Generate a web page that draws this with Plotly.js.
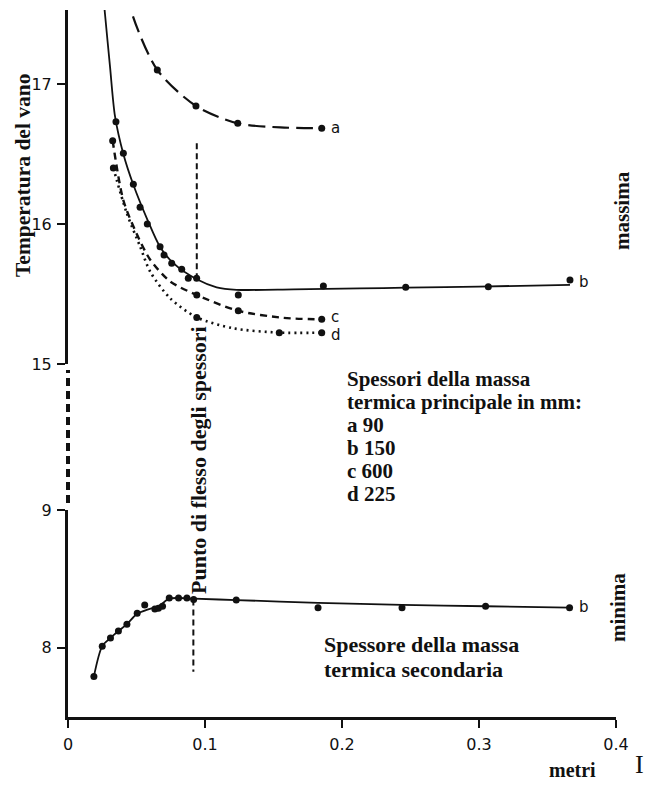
<!DOCTYPE html>
<html>
<head>
<meta charset="utf-8">
<script src="https://cdn.plot.ly/plotly-3.0.1.min.js"></script>
<style>
  html, body { margin: 0; padding: 0; background: #fff; }
  #chart { width: 651px; height: 785px; }
</style>
</head>
<body>
<div id="chart"></div>
<script>
// ---------- data ----------
const xTickVals = [0, 0.1, 0.2, 0.3, 0.4];
const xTickText = ['0', '0.1', '0.2', '0.3', '0.4'];
const yTickUpper = [15, 16, 17];
const yTickLower = [8, 9];

// series a (90 mm) – upper panel
const aCurveX = [0.044, 0.0472, 0.0652, 0.0934, 0.1239, 0.155, 0.1852];
const aCurveY = [17.65, 17.49, 17.10, 16.843, 16.719, 16.69, 16.684];
const aPtsX = [0.0652, 0.0934, 0.1239, 0.1852];
const aPtsY = [17.10, 16.843, 16.719, 16.684];

// series b (150 mm) – upper panel
const bCurveX = [0.0246, 0.027, 0.0307, 0.0343, 0.0404, 0.0477, 0.058, 0.067, 0.0769, 0.094, 0.1085, 0.123, 0.1645, 0.213, 0.2465, 0.30, 0.3664];
const bCurveY = [17.75, 17.5, 17.12, 16.77, 16.50, 16.28, 16.03, 15.84, 15.72, 15.605, 15.548, 15.53, 15.533, 15.54, 15.545, 15.553, 15.565];
const bPtsX = [0.035, 0.0404, 0.0477, 0.0526, 0.0579, 0.0672, 0.0701, 0.0757, 0.083, 0.0878, 0.0939, 0.1243, 0.1864, 0.2465, 0.3068, 0.3664];
const bPtsY = [16.73, 16.505, 16.284, 16.119, 16.0, 15.838, 15.779, 15.719, 15.676, 15.612, 15.612, 15.493, 15.557, 15.548, 15.552, 15.60];

// series c (600 mm)
const cCurveX = [0.0326, 0.0404, 0.0501, 0.06, 0.0745, 0.094, 0.1243, 0.157, 0.1852];
const cCurveY = [16.595, 16.17, 15.93, 15.745, 15.59, 15.493, 15.38, 15.33, 15.319];
const cPtsX = [0.0326, 0.094, 0.1243, 0.1852];
const cPtsY = [16.595, 15.493, 15.38, 15.319];

// series d (225 mm)
const dCurveX = [0.0331, 0.0428, 0.0526, 0.06, 0.0745, 0.094, 0.1207, 0.1542, 0.1852];
const dCurveY = [16.40, 16.08, 15.84, 15.66, 15.47, 15.333, 15.255, 15.224, 15.224];
const dPtsX = [0.0331, 0.094, 0.1542, 0.1852];
const dPtsY = [16.40, 15.333, 15.224, 15.224];

// series b – lower panel (minimum temperature)
const bLowCurveX = [0.0189, 0.025, 0.031, 0.0368, 0.043, 0.0505, 0.058, 0.066, 0.0739, 0.0807, 0.0917, 0.1228, 0.1825, 0.2438, 0.3048, 0.3661];
const bLowCurveY = [7.79, 8.01, 8.07, 8.12, 8.17, 8.245, 8.275, 8.30, 8.355, 8.36, 8.355, 8.345, 8.325, 8.31, 8.30, 8.29];
const bLowPtsX = [0.0189, 0.025, 0.031, 0.0368, 0.043, 0.0505, 0.056, 0.0634, 0.066, 0.069, 0.0739, 0.0807, 0.0868, 0.0917, 0.1228, 0.1825, 0.2438, 0.3048, 0.3661];
const bLowPtsY = [7.79, 8.01, 8.07, 8.12, 8.17, 8.25, 8.31, 8.28, 8.285, 8.30, 8.36, 8.36, 8.36, 8.35, 8.345, 8.29, 8.29, 8.30, 8.29];

// inflection marker ("Punto di flesso")
const flexUpperX = [0.094, 0.094];
const flexUpperY = [16.576, 15.612];
const flexLowerX = [0.0915, 0.0915];
const flexLowerY = [8.35, 7.824];

const legendLines = ['Spessori della massa', 'termica principale in mm:', 'a 90', 'b 150', 'c 600', 'd 225'];
const secondaryLines = ['Spessore della massa', 'termica secondaria'];

// ---------- styling ----------
const INK = '#111';
const SERIF = '"Liberation Serif", "Times New Roman", serif';
const SANS = '"DejaVu Sans", sans-serif';

function curve(x, y, yaxis, dash, width) {
  return { x, y, yaxis, type: 'scatter', mode: 'lines',
    line: { color: INK, width, dash, shape: 'spline', smoothing: 0.8 },
    hoverinfo: 'skip', showlegend: false };
}
function pts(x, y, yaxis) {
  return { x, y, yaxis, type: 'scatter', mode: 'markers',
    marker: { color: INK, size: 7 }, hoverinfo: 'skip', showlegend: false };
}

const traces = [
  curve(aCurveX, aCurveY, 'y2', '17px,7px', 2.2),
  pts(aPtsX, aPtsY, 'y2'),
  curve(bCurveX, bCurveY, 'y2', 'solid', 1.8),
  pts(bPtsX, bPtsY, 'y2'),
  curve(cCurveX, cCurveY, 'y2', '7px,5px', 2.4),
  pts(cPtsX, cPtsY, 'y2'),
  curve(dCurveX, dCurveY, 'y2', '2px,4px', 2.6),
  pts(dPtsX, dPtsY, 'y2'),
  curve(bLowCurveX, bLowCurveY, 'y', 'solid', 1.8),
  pts(bLowPtsX, bLowPtsY, 'y'),
  { x: flexUpperX, y: flexUpperY, yaxis: 'y2', type: 'scatter', mode: 'lines',
    line: { color: INK, width: 2, dash: '6px,4px' }, hoverinfo: 'skip', showlegend: false },
  { x: flexLowerX, y: flexLowerY, yaxis: 'y', type: 'scatter', mode: 'lines',
    line: { color: INK, width: 2, dash: '6px,4px' }, hoverinfo: 'skip', showlegend: false }
];

// plot area in pixels: left 68, right 616, top 10, bottom 717
const L = 68, R = 616, T = 10, B = 717;
const px = v => (v - L) / (R - L);
const py = v => (B - v) / (B - T);

const annotations = [];
function txt(text, x, y, opts) {
  annotations.push(Object.assign({ text, x, y, xref: 'paper', yref: 'paper', showarrow: false }, opts));
}
const serifBold = size => ({ family: SERIF, size, color: INK, weight: 'bold' });

txt('<b>Temperatura del vano</b>', px(23), py(176), { textangle: -90, font: serifBold(21.5), xanchor: 'center', yanchor: 'middle' });
txt('<b>massima</b>', px(622), py(211), { textangle: -90, font: serifBold(21), xanchor: 'center', yanchor: 'middle' });
txt('<b>minima</b>', px(618), py(608), { textangle: -90, font: serifBold(21), xanchor: 'center', yanchor: 'middle' });
txt('<b>Punto di flesso degli spessori</b>', px(198), py(460), { textangle: -90, font: serifBold(22), xanchor: 'center', yanchor: 'middle' });
txt('<b>metri</b>', px(572), py(770), { font: serifBold(20), xanchor: 'center', yanchor: 'middle' });
txt('I', px(639), py(764), { font: { family: SERIF, size: 26, color: INK }, xanchor: 'center', yanchor: 'middle' });

const legendCenters = [379, 402, 425, 448, 471, 494];
legendLines.forEach((s, i) => txt('<b>' + s + '</b>', px(345), py(legendCenters[i]), { font: serifBold(21), xanchor: 'left', yanchor: 'middle' }));
const secCenters = [644.3, 669.3];
secondaryLines.forEach((s, i) => txt('<b>' + s + '</b>', px(322), py(secCenters[i]), { font: serifBold(22), xanchor: 'left', yanchor: 'middle' }));

// series letters
const lab = (t, x, y, yref, dy) => annotations.push({ text: t, x, y, xref: 'x', yref, showarrow: false,
  xanchor: 'left', yanchor: 'middle', xshift: 7, yshift: dy, font: { family: SANS, size: 15, color: INK } });
lab('a', aPtsX[3], aPtsY[3], 'y2', 0);
lab('b', bPtsX[bPtsX.length - 1], bPtsY[bPtsY.length - 1], 'y2', -2);
lab('c', cPtsX[3], cPtsY[3], 'y2', 2);
lab('d', dPtsX[3], dPtsY[3], 'y2', -2);
lab('b', bLowPtsX[bLowPtsX.length - 1], bLowPtsY[bLowPtsY.length - 1], 'y', 1);

const axisCommon = {
  showline: true, linecolor: INK, linewidth: 3, ticks: 'outside', ticklen: 8, tickwidth: 2, tickcolor: INK,
  showgrid: false, zeroline: false, tickfont: { family: SANS, size: 16, color: INK }, fixedrange: true
};

const layout = {
  width: 651, height: 785,
  margin: { l: L, r: 651 - R, t: T, b: 785 - B, pad: 0 },
  paper_bgcolor: '#fff', plot_bgcolor: '#fff',
  showlegend: false,
  xaxis: Object.assign({}, axisCommon, { range: [0, 0.4], tickvals: xTickVals, ticktext: xTickText, anchor: 'y', ticklabelstandoff: 3 }),
  yaxis: Object.assign({}, axisCommon, { domain: [0, py(510)], range: [8 - (717 - 647.5) / 137.5, 9], tickvals: yTickLower, anchor: 'x', ticklabelstandoff: 2 }),
  yaxis2: Object.assign({}, axisCommon, { domain: [py(364), 1], range: [15, 17 + (84 - 10) / 140], tickvals: yTickUpper, anchor: 'x', ticklabelstandoff: 2 }),
  shapes: [
    { type: 'line', xref: 'paper', yref: 'paper', x0: 0, x1: 0, y0: py(503), y1: py(370),
      line: { color: INK, width: 4, dash: '8px,5px' } }
  ],
  annotations
};

Plotly.newPlot('chart', traces, layout, { displayModeBar: false, staticPlot: true });
</script>
</body>
</html>
